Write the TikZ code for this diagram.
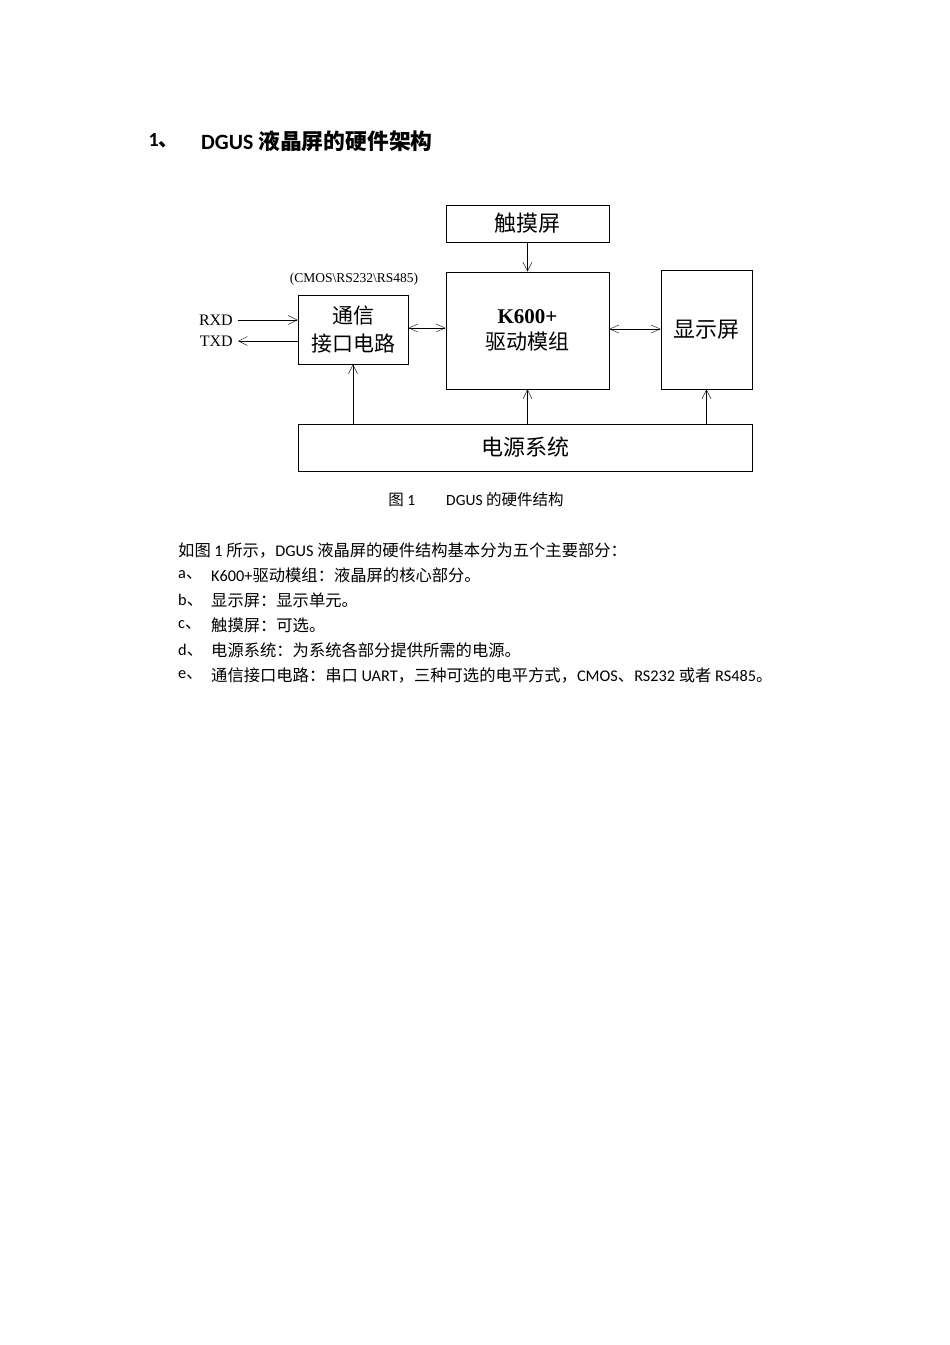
\documentclass[tikz,border=0pt]{standalone}
\usepackage{fontspec}
\setmainfont{Carlito}
\newfontfamily\cjk{Noto Sans CJK SC}
\newfontfamily\lib{Liberation Serif}
\usetikzlibrary{arrows.meta}
\begin{document}
\begin{tikzpicture}[x=1pt,y=-1pt,
  box/.style={draw,thick,inner sep=0pt},
  lab/.style={font=\cjk\fontsize{22}{24}\selectfont},
  arr/.style={-{Straight Barb[length=9pt,width=9pt]}},
  darr/.style={{Straight Barb[length=9pt,width=8pt]}-{Straight Barb[length=9pt,width=8pt]}},
  body/.style={anchor=west,font=\fontsize{16.3}{18}\selectfont,inner sep=0pt}]
\useasboundingbox (0,0) rectangle (950,1345);
\node[anchor=west,font=\bfseries\fontsize{20}{22}\selectfont] (n1) at (145,141) {1\cjk 、};
\node[anchor=west,inner sep=0pt,font=\bfseries\fontsize{21.8}{22}\selectfont] (ttl) at (201,141) {DGUS {\cjk\bfseries 液晶屏的硬件架构}};
\node[box,minimum width=163,minimum height=37,lab] (touch) at (527.5,223.5) {触摸屏};
\node[box,minimum width=110,minimum height=69,lab,align=center,font=\cjk\fontsize{21}{28}\selectfont] (comm) at (353,329.5) {通信\\接口电路};
\node[box,minimum width=163,minimum height=117,align=center,font=\cjk\fontsize{21}{26}\selectfont] (k600) at (527.5,330.5) {{\lib\bfseries K600+}\\驱动模组};
\node[box,minimum width=91,minimum height=119,lab] (disp) at (706.5,329.5) {显示屏};
\node[box,minimum width=454,minimum height=47,lab] (pwr) at (525,447.5) {电源系统};
\node[font=\lib\fontsize{13.5}{15}\selectfont,inner sep=0pt] (cm) at (354,279) {(CMOS\textbackslash RS232\textbackslash RS485)};
\node[font=\lib\fontsize{16}{17}\selectfont,anchor=east,inner sep=0pt] (rxd) at (233,320) {RXD};
\node[font=\lib\fontsize{16}{17}\selectfont,anchor=east,inner sep=0pt] (txd) at (233,341) {TXD};
\coordinate (r1) at (238,320); \coordinate (t1) at (238,341);
\draw[arr] (r1) -- (r1 -| comm.west);
\draw[arr] (t1 -| comm.west) -- (t1);
\draw[darr] (comm.east |- 0,328) -- (k600.west |- 0,328);
\draw[darr] (k600.east |- 0,329) -- (disp.west |- 0,329);
\draw[arr] (touch.south) -- (k600.north);
\draw[arr] (pwr.north -| comm.south) -- (comm.south);
\draw[arr] (pwr.north -| k600.south) -- (k600.south);
\draw[arr] (pwr.north -| disp.south) -- (disp.south);
\node[font=\fontsize{15.5}{17}\selectfont] (cap) at (476,500) {{\cjk 图} 1\hspace{2em}DGUS {\cjk 的硬件结构}};
\node[body] (p0) at (178,550) {{\cjk 如图} 1 {\cjk 所示，}DGUS {\cjk 液晶屏的硬件结构基本分为五个主要部分：}};
\node[body] (pa) at (178,575) {a{\cjk 、}};
\node[body] (ta) at (211,575) {K600+{\cjk 驱动模组：液晶屏的核心部分。}};
\node[body] (pb) at (178,600) {b{\cjk 、}};
\node[body] (tb) at (211,600) {\cjk 显示屏：显示单元。};
\node[body] (pc) at (178,625) {c{\cjk 、}};
\node[body] (tc) at (211,625) {\cjk 触摸屏：可选。};
\node[body] (pd) at (178,650) {d{\cjk 、}};
\node[body] (td) at (211,650) {\cjk 电源系统：为系统各部分提供所需的电源。};
\node[body] (pe) at (178,675) {e{\cjk 、}};
\node[body] (te) at (211,675) {{\cjk 通信接口电路：串口} UART{\cjk ，三种可选的电平方式，}CMOS{\cjk 、}RS232 {\cjk 或者} RS485{\cjk 。}};
\end{tikzpicture}
\end{document}
